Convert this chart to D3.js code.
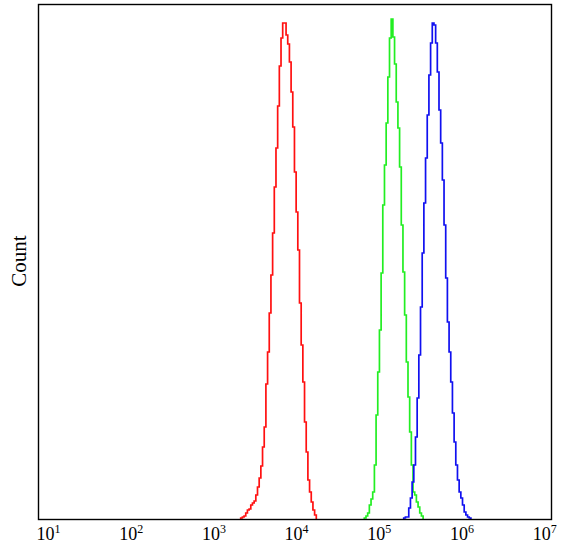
<!DOCTYPE html>
<html>
<head>
<meta charset="utf-8">
<script src="https://cdn.jsdelivr.net/npm/d3@7"></script>
<style>
  html, body { margin: 0; padding: 0; background: #fff; }
  svg { display: block; }
</style>
</head>
<body>
<svg id="chart" width="562" height="551"></svg>
<script>
// ---- data ----
const tickExponents = [1, 2, 3, 4, 5, 6, 7];
const yLabel = "Count";
const binWidthLog = 0.02031;        // histogram bin width, in decades

// first bin edge (log10 of intensity) and bin counts of each histogram
const redStartLog = 3.330;
const redCounts = [1, 2, 3, 6, 9, 10, 14, 16, 18, 24, 32, 41, 53, 72, 92, 135, 167, 206, 244, 286,
  332, 371, 413, 453, 481, 496, 496, 484, 475, 457, 427, 392, 347, 307, 269, 216, 174, 137, 97,
  67, 39, 27, 17, 9, 4];

const greenStartLog = 4.8247;
const greenCounts = [1, 3, 6, 14, 20, 27, 54, 104, 147, 189, 246, 314, 354, 396, 442, 481, 500,
  482, 455, 417, 391, 352, 294, 247, 204, 157, 122, 87, 54, 27, 24, 17, 12, 6, 3];

const blueStartLog = 5.3011;
const blueCounts = [1, 2, 2, 11, 21, 37, 54, 82, 121, 164, 212, 266, 316, 361, 404, 444, 476, 496,
  494, 476, 447, 409, 376, 339, 294, 241, 197, 167, 137, 106, 77, 54, 39, 27, 21, 14, 7, 4, 2, 1];

const seriesNames = ["red", "green", "blue"];
const seriesColors = ["#ff1010", "#22ee22", "#1010f0"];

// ---- layout ----
const mLeft = 38, mRight = 552, mTop = 4, mBottom = 519;
const svg = d3.select("#chart");

const x = d3.scaleLog()
  .domain([Math.pow(10, 0.879), Math.pow(10, 7.094)])
  .range([mLeft, mRight]);
const y = d3.scaleLinear()
  .domain([0, 515])
  .range([mBottom, mTop]);

function stepPoints(startLog, counts) {
  const pts = [];
  const edge = i => Math.pow(10, startLog + i * binWidthLog);
  pts.push([edge(0), 0]);
  counts.forEach((c, i) => {
    pts.push([edge(i), c]);
    pts.push([edge(i + 1), c]);
  });
  pts.push([edge(counts.length), 0]);
  return pts;
}

const series = [
  { name: seriesNames[0], color: seriesColors[0], pts: stepPoints(redStartLog, redCounts) },
  { name: seriesNames[1], color: seriesColors[1], pts: stepPoints(greenStartLog, greenCounts) },
  { name: seriesNames[2], color: seriesColors[2], pts: stepPoints(blueStartLog, blueCounts) }
];

const line = d3.line().x(d => x(d[0])).y(d => y(d[1]));

svg.append("g")
  .selectAll("path")
  .data(series)
  .join("path")
  .attr("d", d => line(d.pts))
  .attr("fill", "none")
  .attr("stroke", d => d.color)
  .attr("stroke-width", 1.7)
  .attr("stroke-linejoin", "miter");

// frame
svg.append("rect")
  .attr("x", mLeft + 0.5).attr("y", mTop + 0.5)
  .attr("width", mRight - mLeft - 1).attr("height", mBottom - mTop)
  .attr("fill", "none")
  .attr("stroke", "#000")
  .attr("stroke-width", 1.4);

// x axis (log ticks, no tick marks)
const xAxis = d3.axisBottom(x)
  .tickValues(tickExponents.map(e => Math.pow(10, e)))
  .tickSize(0)
  .tickPadding(0)
  .tickFormat(() => "");
const gx = svg.append("g")
  .attr("transform", `translate(0,${mBottom})`)
  .call(xAxis);
gx.select(".domain").remove();
gx.selectAll(".tick text").remove();
gx.selectAll(".tick").each(function (v) {
  const e = Math.round(Math.log10(v));
  const t = d3.select(this).append("text")
    .attr("x", 0)
    .attr("y", 21)
    .attr("text-anchor", "middle")
    .attr("fill", "#000")
    .attr("font-family", "'Liberation Serif', 'DejaVu Serif', serif")
    .attr("font-size", 18);
  t.append("tspan").text("10");
  t.append("tspan")
    .attr("font-size", 12)
    .attr("dy", -7)
    .text(String(e));
});

// y label
svg.append("text")
  .attr("transform", `translate(26,261) rotate(-90)`)
  .attr("text-anchor", "middle")
  .attr("fill", "#000")
  .attr("font-family", "'Liberation Serif', 'DejaVu Serif', serif")
  .attr("font-size", 21)
  .text(yLabel);
</script>
</body>
</html>
